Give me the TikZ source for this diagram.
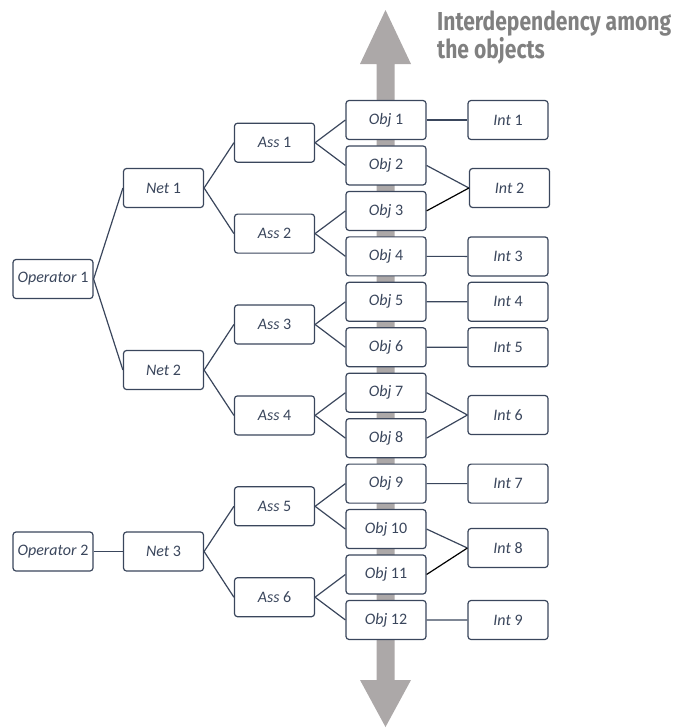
\documentclass[tikz,border=0pt]{standalone}
\usepackage{fontspec}
\setmainfont{Carlito}
\newfontfamily\titlefont[FakeStretch=0.81]{Fira Sans}
\definecolor{slate}{RGB}{58,70,92}
\definecolor{arrowgray}{RGB}{172,168,168}
\definecolor{titlegray}{RGB}{128,128,128}
\tikzset{
  box/.style={draw=slate, fill=white, line width=1.2pt, rounded corners=3pt,
    minimum width=80pt, minimum height=39pt, inner sep=1pt, text=slate,
    font=\fontsize{16}{18}\selectfont},
  link/.style={draw=slate, line width=1.2pt},
  blink/.style={draw=black, line width=1.2pt}
}
\newcommand{\lbl}[2]{\textit{#1}~#2}
\begin{document}
\begin{tikzpicture}[x=1pt,y=-1pt]
\useasboundingbox (0,0) rectangle (673,728);
% gray double arrow
\fill[arrowgray] (385.5,10) -- (411,64) -- (394.5,64) -- (394.5,680) -- (411,680)
  -- (385.5,727) -- (360,680) -- (376.5,680) -- (376.5,64) -- (360,64) -- cycle;
% title
\node[anchor=north west, inner sep=0pt, align=left, text=titlegray,
  font=\titlefont\bfseries\fontsize{26}{26}\selectfont] (title) at (437,11)
  {Interdependency among\\the objects};
% objects
\foreach \i in {1,...,12} {
  \node[box] (obj\i) at (386,{120+(\i-1)*45.45}) {\lbl{Obj}{\i}};
}
% associations
\foreach \k in {1,...,6} {
  \node[box] (ass\k) at (274.5,{142.7+(\k-1)*90.9}) {\lbl{Ass}{\k}};
}
% networks
\node[box] (net1) at (163.5,188) {\lbl{Net}{1}};
\node[box] (net2) at (163.5,370) {\lbl{Net}{2}};
\node[box] (net3) at (163.5,551.5) {\lbl{Net}{3}};
% operators
\node[box] (op1) at (53,279) {\lbl{Operator}{1}};
\node[box] (op2) at (53,551.5) {\lbl{Operator}{2}};
% interdependencies
\node[box] (int1) at (508,120) {\lbl{Int}{1}};
\node[box] (int2) at (509.5,188) {\lbl{Int}{2}};
\node[box] (int3) at (508,256.4) {\lbl{Int}{3}};
\node[box] (int4) at (508,301.8) {\lbl{Int}{4}};
\node[box] (int5) at (508,347.3) {\lbl{Int}{5}};
\node[box] (int6) at (508,415) {\lbl{Int}{6}};
\node[box] (int7) at (508,483.6) {\lbl{Int}{7}};
\node[box] (int8) at (508,548) {\lbl{Int}{8}};
\node[box] (int9) at (508,620) {\lbl{Int}{9}};
% connectors
\draw[link] (op1.east) -- (net1.west);
\draw[link] (op1.east) -- (net2.west);
\draw[link] (op2.east) -- (net3.west);
\draw[link] (net1.east) -- (ass1.west);
\draw[link] (net1.east) -- (ass2.west);
\draw[link] (net2.east) -- (ass3.west);
\draw[link] (net2.east) -- (ass4.west);
\draw[link] (net3.east) -- (ass5.west);
\draw[link] (net3.east) -- (ass6.west);
\foreach \k [evaluate=\k as \a using int(2*\k-1), evaluate=\k as \b using int(2*\k)] in {1,...,6} {
  \draw[link] (ass\k.east) -- (obj\a.west);
  \draw[link] (ass\k.east) -- (obj\b.west);
}
\draw[link] (obj1.east) -- (int1.west);
\draw[link] (obj2.east) -- (int2.west);
\draw[blink] (obj3.east) -- (int2.west);
\draw[link] (obj4.east) -- (int3.west);
\draw[link] (obj5.east) -- (int4.west);
\draw[link] (obj6.east) -- (int5.west);
\draw[link] (obj7.east) -- (int6.west);
\draw[link] (obj8.east) -- (int6.west);
\draw[link] (obj9.east) -- (int7.west);
\draw[link] (obj10.east) -- (int8.west);
\draw[blink] (obj11.east) -- (int8.west);
\draw[link] (obj12.east) -- (int9.west);
\end{tikzpicture}
\end{document}
